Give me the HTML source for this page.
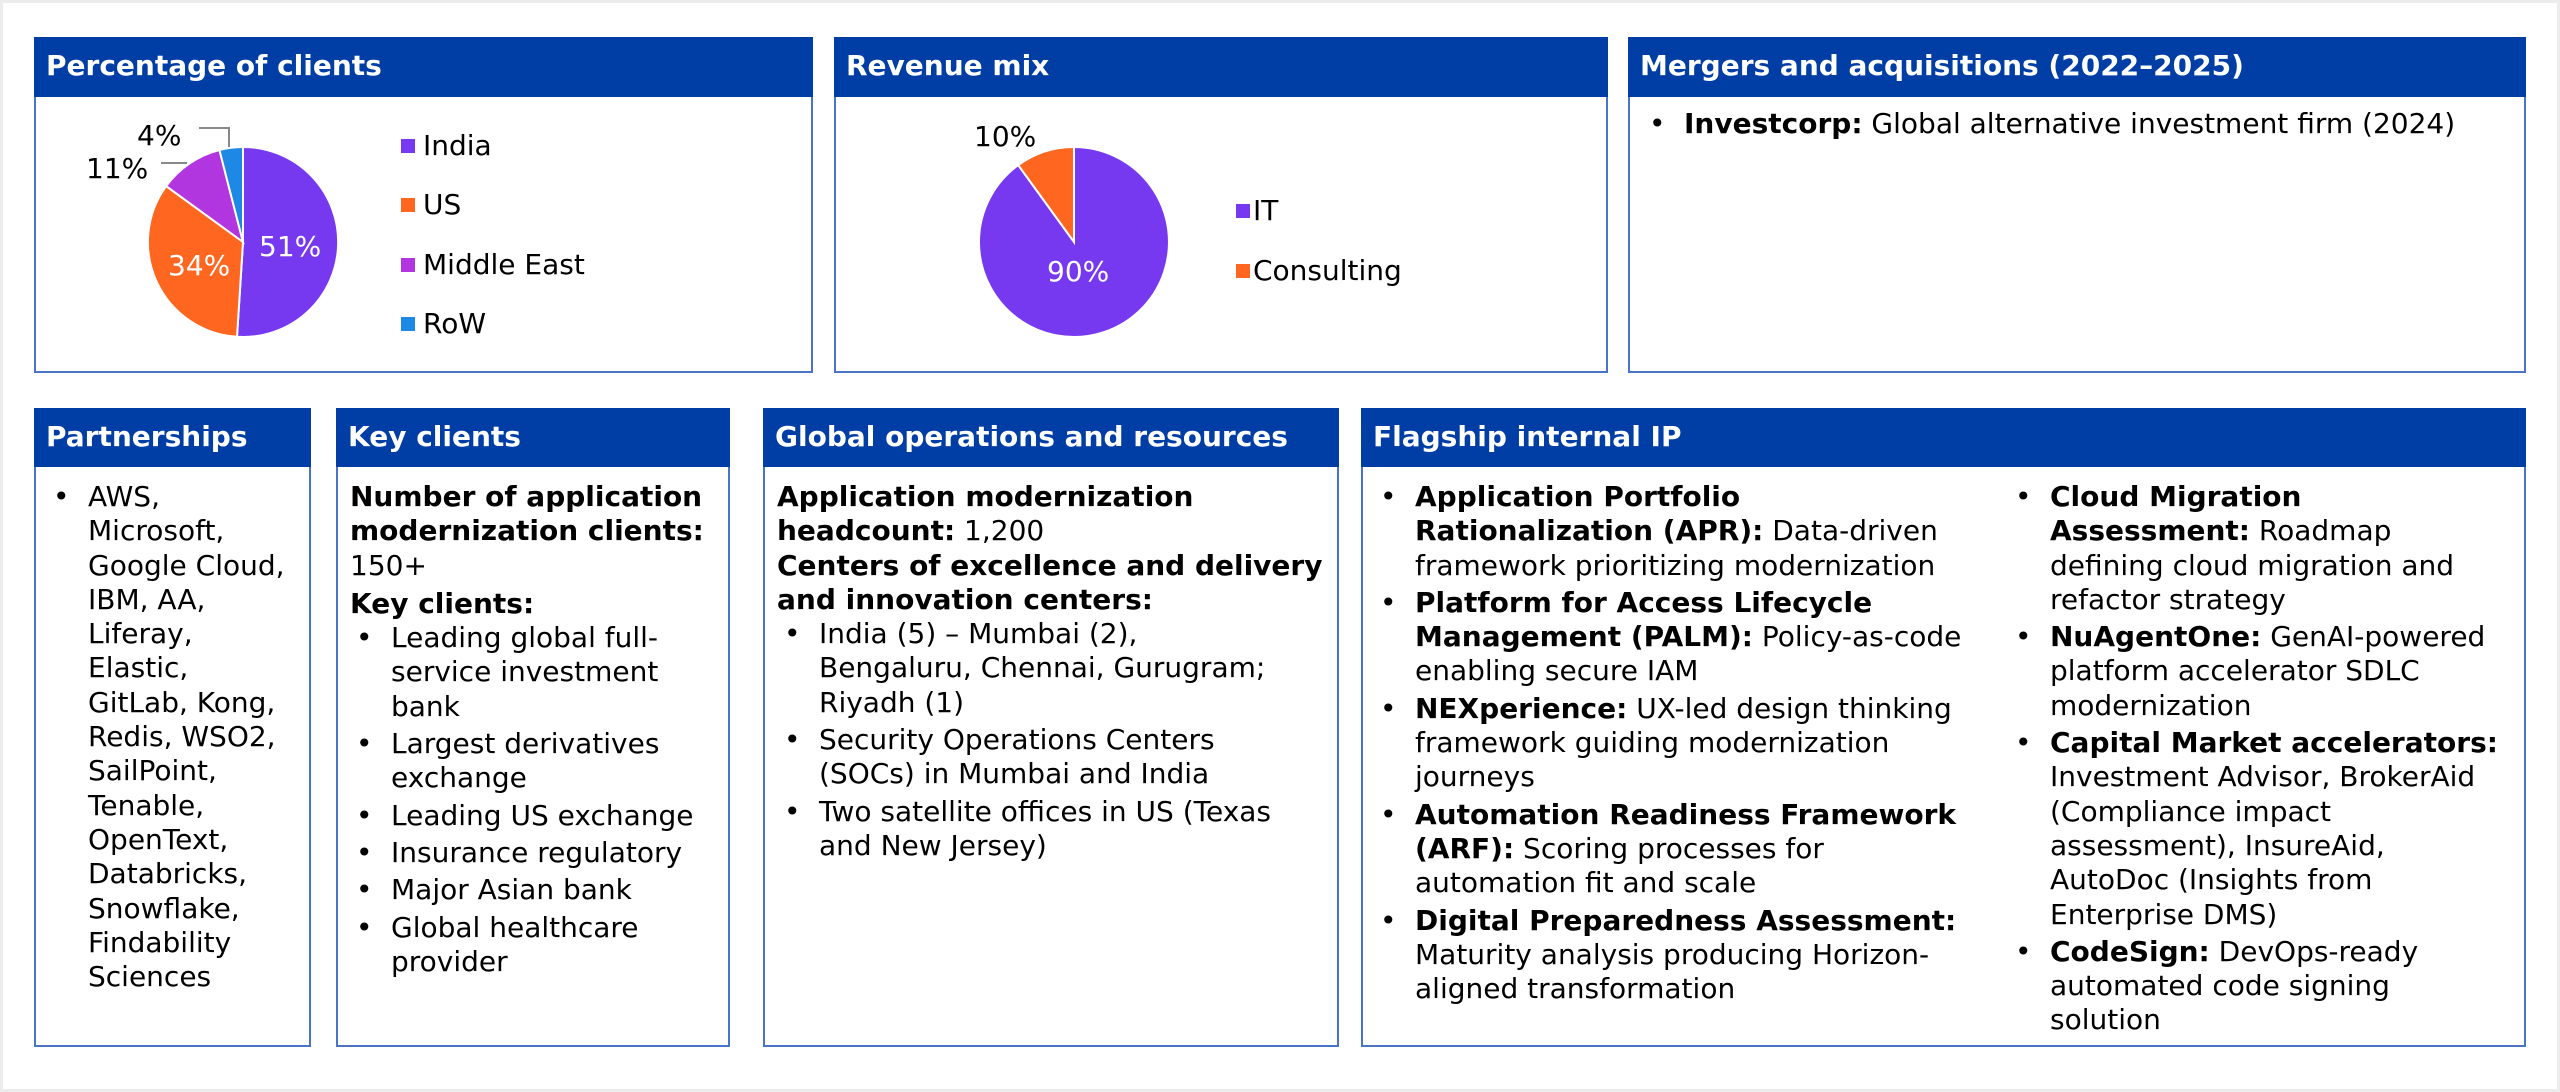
<!DOCTYPE html>
<html><head><meta charset="utf-8"><style>
*{margin:0;padding:0;box-sizing:border-box}
body{width:2560px;height:1092px;background:#ececec;font-family:"DejaVu Sans","Liberation Sans",sans-serif;color:#000;position:relative;overflow:hidden}
.bg{position:absolute;left:3px;top:3px;width:2554px;height:1086px;background:#fff}
.p{position:absolute;border:2px solid #4a74c8;background:#fff}
.h{background:#003ea6;color:#fff;font-weight:bold;font-size:28px;height:60px;line-height:58px;padding-left:12px;margin:-2px -2px 0 -2px;white-space:nowrap}
.r2 .h{height:59px}
.t{position:absolute;font-size:28px;line-height:34.3px;white-space:nowrap}
ul{list-style:none}
li{position:relative;padding-left:35px;margin-bottom:3px}
li:before{content:"•";position:absolute;left:0;top:0}
b{font-weight:bold}
</style></head><body>
<div class="bg"></div>

<div class="p" style="left:34px;top:37px;width:779px;height:336px"><div class="h">Percentage of clients</div></div>
<div class="p" style="left:834px;top:37px;width:774px;height:336px"><div class="h">Revenue mix</div></div>
<div class="p" style="left:1628px;top:37px;width:898px;height:336px"><div class="h">Mergers and acquisitions (2022–2025)</div></div>

<div class="p r2" style="left:34px;top:408px;width:277px;height:639px"><div class="h">Partnerships</div></div>
<div class="p r2" style="left:336px;top:408px;width:394px;height:639px"><div class="h">Key clients</div></div>
<div class="p r2" style="left:763px;top:408px;width:576px;height:639px"><div class="h">Global operations and resources</div></div>
<div class="p r2" style="left:1361px;top:408px;width:1165px;height:639px"><div class="h">Flagship internal IP</div></div>

<svg style="position:absolute;left:0;top:0" width="2560" height="1092">
 <g stroke="#fff" stroke-width="2">
  <path d="M243,242 L243,147 A95,95 0 1,1 237,336.8 Z" fill="#7639f0"/>
  <path d="M243,242 L237,336.8 A95,95 0 0,1 166.1,186.1 Z" fill="#ff661f"/>
  <path d="M243,242 L166.1,186.1 A95,95 0 0,1 219.4,150 Z" fill="#b236e0"/>
  <path d="M243,242 L219.4,150 A95,95 0 0,1 243,147 Z" fill="#1e88e5"/>
  <path d="M1074,242 L1074,147 A95,95 0 1,1 1018.2,165.1 Z" fill="#7639f0"/>
  <path d="M1074,242 L1018.2,165.1 A95,95 0 0,1 1074,147 Z" fill="#ff661f"/>
 </g>
 <g stroke="#888" stroke-width="2" fill="none">
  <path d="M161,163 L187,163"/>
  <path d="M199,128 L229,128 L229,147"/>
 </g>
 <g font-family="DejaVu Sans, Liberation Sans, sans-serif" font-size="28">
  <text x="259" y="256" fill="#fff">51%</text>
  <text x="168" y="275" fill="#fff">34%</text>
  <text x="86" y="178">11%</text>
  <text x="137" y="145">4%</text>
  <text x="1047" y="281" fill="#fff">90%</text>
  <text x="974" y="146">10%</text>
 </g>
 <g font-family="DejaVu Sans, Liberation Sans, sans-serif" font-size="28">
  <rect x="401" y="139" width="14" height="14" fill="#7639f0"/><text x="423" y="155">India</text>
  <rect x="401" y="198" width="14" height="14" fill="#ff661f"/><text x="423" y="214">US</text>
  <rect x="401" y="258" width="14" height="14" fill="#b236e0"/><text x="423" y="274">Middle East</text>
  <rect x="401" y="317" width="14" height="14" fill="#1e88e5"/><text x="423" y="333">RoW</text>
  <rect x="1236" y="204" width="14" height="14" fill="#7639f0"/><text x="1253" y="220">IT</text>
  <rect x="1236" y="264" width="14" height="14" fill="#ff661f"/><text x="1253" y="280">Consulting</text>
 </g>
</svg>

<div class="t" style="left:1649px;top:107px"><ul><li><b>Investcorp:</b> Global alternative investment firm (2024)</li></ul></div>

<div class="t" style="left:53px;top:480px"><ul><li>AWS,<br>Microsoft,<br>Google Cloud,<br>IBM, AA,<br>Liferay,<br>Elastic,<br>GitLab, Kong,<br>Redis, WSO2,<br>SailPoint,<br>Tenable,<br>OpenText,<br>Databricks,<br>Snowflake,<br>Findability<br>Sciences</li></ul></div>

<div class="t" style="left:350px;top:480px"><b>Number of application<br>modernization clients:</b><br>150+<div style="height:4px"></div><b>Key clients:</b>
<ul style="margin-left:6px"><li>Leading global full-<br>service investment<br>bank</li><li>Largest derivatives<br>exchange</li><li>Leading US exchange</li><li>Insurance regulatory</li><li>Major Asian bank</li><li>Global healthcare<br>provider</li></ul></div>

<div class="t" style="left:777px;top:480px"><b>Application modernization<br>headcount:</b> 1,200<br><b>Centers of excellence and delivery<br>and innovation centers:</b>
<ul style="margin-left:7px"><li>India (5) – Mumbai (2),<br>Bengaluru, Chennai, Gurugram;<br>Riyadh (1)</li><li>Security Operations Centers<br>(SOCs) in Mumbai and India</li><li>Two satellite offices in US (Texas<br>and New Jersey)</li></ul></div>

<div class="t" style="left:1380px;top:480px"><ul>
<li><b>Application Portfolio<br>Rationalization (APR):</b> Data-driven<br>framework prioritizing modernization</li>
<li><b>Platform for Access Lifecycle<br>Management (PALM):</b> Policy-as-code<br>enabling secure IAM</li>
<li><b>NEXperience:</b> UX-led design thinking<br>framework guiding modernization<br>journeys</li>
<li><b>Automation Readiness Framework<br>(ARF):</b> Scoring processes for<br>automation fit and scale</li>
<li><b>Digital Preparedness Assessment:</b><br>Maturity analysis producing Horizon-<br>aligned transformation</li></ul></div>

<div class="t" style="left:2015px;top:480px"><ul>
<li><b>Cloud Migration<br>Assessment:</b> Roadmap<br>defining cloud migration and<br>refactor strategy</li>
<li><b>NuAgentOne:</b> GenAI-powered<br>platform accelerator SDLC<br>modernization</li>
<li><b>Capital Market accelerators:</b><br>Investment Advisor, BrokerAid<br>(Compliance impact<br>assessment), InsureAid,<br>AutoDoc (Insights from<br>Enterprise DMS)</li>
<li><b>CodeSign:</b> DevOps-ready<br>automated code signing<br>solution</li></ul></div>
</body></html>
